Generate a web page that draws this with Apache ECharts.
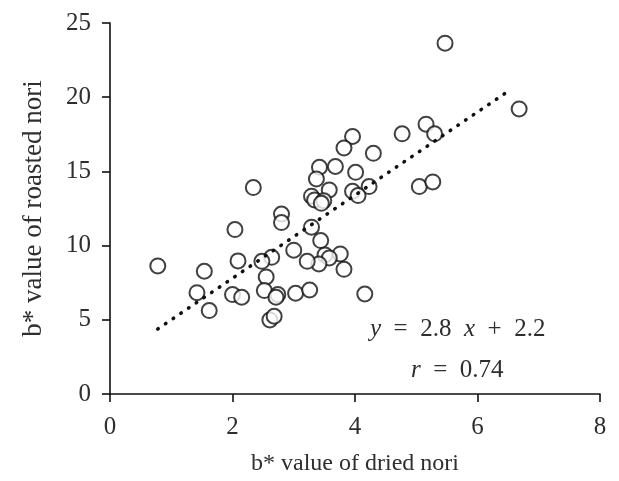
<!DOCTYPE html>
<html>
<head>
<meta charset="utf-8">
<script src="https://cdn.jsdelivr.net/npm/echarts@6/dist/echarts.min.js"></script>
<style>
  html, body { margin: 0; padding: 0; background: #fff; }
  #chart { width: 619px; height: 481px; }
</style>
</head>
<body>
<div id="chart"></div>
<script>
// b* of dried nori (x) against b* of roasted nori (y), one entry per sample
const driedB = [
  5.47, 6.68, 4.77, 5.16, 5.30, 3.96, 3.82, 4.30, 3.42, 3.68,
  4.01, 3.37, 2.34, 5.05, 5.27, 4.23, 3.96, 4.05, 3.58, 3.29,
  3.34, 3.49, 3.45, 2.80, 2.80, 2.04, 3.29, 3.44, 3.00, 3.51,
  3.76, 3.58, 3.41, 3.22, 3.82, 2.64, 2.48, 2.09, 0.78, 1.54,
  2.55, 1.42, 2.00, 2.15, 2.52, 2.74, 2.71, 3.03, 3.26, 4.16,
  1.62, 2.61, 2.68
];
const roastedB = [
  23.64, 19.21, 17.53, 18.18, 17.53, 17.35, 16.58, 16.22, 15.28, 15.33,
  14.94, 14.49, 13.91, 13.98, 14.29, 13.98, 13.66, 13.37, 13.75, 13.33,
  13.08, 13.03, 12.85, 12.13, 11.55, 11.08, 11.24, 10.34, 9.69, 9.37,
  9.44, 9.17, 8.76, 8.94, 8.40, 9.21, 8.94, 8.97, 8.63, 8.27,
  7.89, 6.83, 6.70, 6.52, 6.97, 6.70, 6.52, 6.79, 7.01, 6.74,
  5.62, 4.99, 5.24
];

// regression y = slope * x + intercept, drawn across the sampled range
const slope = 2.8;
const intercept = 2.2;
const r = 0.74;
const fitRange = [0.78, 6.5];

const xTicks = { min: 0, max: 8, interval: 2 };
const yTicks = { min: 0, max: 25, interval: 5 };

const points = driedB.map((x, i) => [x, roastedB[i]]);
const fitLine = fitRange.map(x => [x, slope * x + intercept]);

const FONT = '"Liberation Serif", "DejaVu Serif", serif';
const TEXT = '#2e2e2e';

const chart = echarts.init(document.getElementById('chart'), null, { renderer: 'canvas' });

const axisCommon = {
  axisLine: { show: true, lineStyle: { color: '#111', width: 1.6 } },
  axisTick: { show: true, inside: false, length: 8, lineStyle: { color: '#111', width: 1.6 } },
  splitLine: { show: false },
  axisLabel: { color: TEXT, fontFamily: FONT, fontSize: 25 },
  nameLocation: 'middle',
  nameTextStyle: { color: TEXT, fontFamily: FONT, fontSize: 24 }
};

const italic = { fontStyle: 'italic', fontFamily: FONT, fontSize: 25, fill: TEXT };

chart.setOption({
  animation: false,
  backgroundColor: '#fff',
  grid: { left: 110, right: 19, top: 23, bottom: 87 },
  xAxis: Object.assign({}, axisCommon, {
    type: 'value',
    min: xTicks.min, max: xTicks.max, interval: xTicks.interval,
    name: 'b* value of dried nori',
    nameGap: 58,
    axisLabel: Object.assign({}, axisCommon.axisLabel, { margin: 21 })
  }),
  yAxis: Object.assign({}, axisCommon, {
    type: 'value',
    min: yTicks.min, max: yTicks.max, interval: yTicks.interval,
    name: 'b* value of roasted nori',
    nameGap: 63,
    nameTextStyle: Object.assign({}, axisCommon.nameTextStyle, { fontSize: 27 }),
    axisLabel: Object.assign({}, axisCommon.axisLabel, { margin: 19 })
  }),
  series: [
    {
      type: 'scatter',
      data: points,
      symbol: 'circle',
      symbolSize: 15,
      itemStyle: { color: '#fff', borderColor: '#111', borderWidth: 2 },
      z: 2
    },
    {
      type: 'line',
      data: fitLine,
      showSymbol: false,
      symbol: 'none',
      lineStyle: { color: '#111', width: 3.6, type: [0.5, 8.8], cap: 'round' },
      z: 3
    }
  ],
  graphic: [
    {
      type: 'text',
      left: 370, top: 317,
      style: {
        text: '{i|y}  =  2.8  {i|x}  +  2.2',
        fill: TEXT,
        font: '25px ' + FONT,
        rich: { i: italic }
      }
    },
    {
      type: 'text',
      left: 411, top: 358,
      style: {
        text: '{i|r}  =  ' + r.toFixed(2),
        fill: TEXT,
        font: '25px ' + FONT,
        rich: { i: italic }
      }
    }
  ]
});
</script>
</body>
</html>
